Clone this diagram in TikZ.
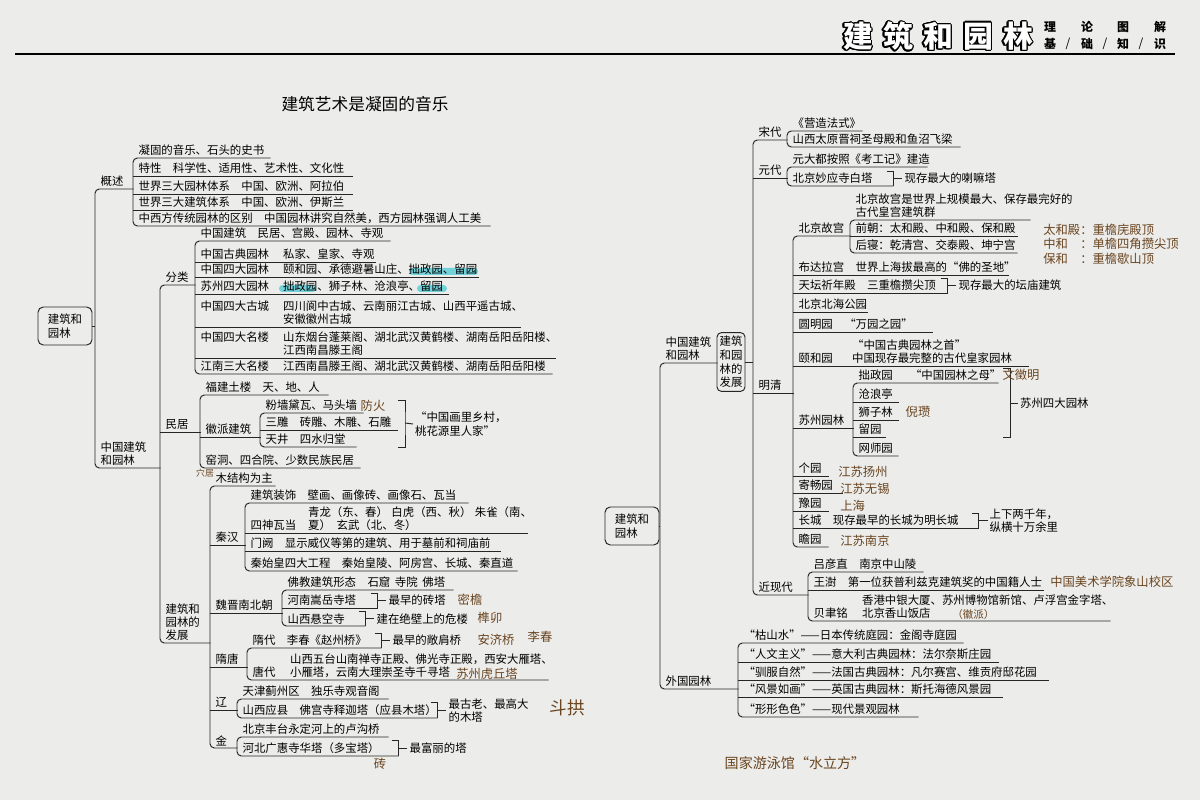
\documentclass[tikz,border=0pt]{standalone}
\usepackage{fontspec}
\setmainfont{Noto Sans CJK SC}
\usepackage[copies]{contour}
\usetikzlibrary{positioning}

\tikzset{
  link/.style={draw=lineGrey, line width=0.55pt},
  elbow/.style={link, rounded corners=2.5pt},
  leaf/.style={anchor=south west, inner xsep=3pt, inner ysep=1pt, align=left, text width=#1*0.02cm-6pt},
  note/.style={anchor=west, inner sep=1pt, align=left},
  rootbox/.style={draw=lineGrey, line width=0.55pt, rounded corners=3pt, align=left, inner sep=2pt,
                  minimum width=1.08cm, minimum height=0.76cm},
  stackbox/.style={draw=lineGrey, line width=0.55pt, rounded corners=2.5pt, align=center, inner xsep=1pt,
                   inner ysep=2pt, minimum width=0.56cm, font=\fontsize{6.5pt}{7.8pt}\selectfont},
  pen/.style={text=inkBrown, inner sep=0pt, font=\fontsize{7pt}{8pt}\selectfont},
  hilite/.style={fill=markerTeal, fill opacity=0.7, rounded corners=2pt},
  titlechar/.style={text=white, font=\fontsize{17pt}{17pt}\selectfont\bfseries, inner sep=0pt},
  subchar/.style={font=\fontsize{6.8pt}{7pt}\selectfont\bfseries, inner sep=0pt},
}

\begin{document}
\begin{tikzpicture}[x=0.02cm, y=-0.02cm, font=\fontsize{6.5pt}{7.6pt}\selectfont]
    % Define colours
    \definecolor{paper}{HTML}{ECECEA}
    \definecolor{lineGrey}{HTML}{262626}
    \definecolor{inkBrown}{HTML}{6A4520}
    \definecolor{markerTeal}{HTML}{3FC6D2}

    % Define spacing macros
    \def\gap{\kern1em}
    \def\lab#1#2{\makebox[#1][l]{#2}}

    % Draw paper
    \fill[paper] (0,0) rectangle (1200,800);
    \useasboundingbox (0,0) rectangle (1200,800);

    % Header
    \contourlength{0.7pt}
    \foreach \ch [count=\i from 0] in {建,筑,和,园,林}
        \node[titlechar] (title\i) at (858+40*\i,37) {\contour{black}{\ch}};
    \foreach \ch/\xx in {理/1050, 论/1087, 图/1123, 解/1160}
        \node[subchar] (top\xx) at (\xx,27) {\ch};
    \foreach \ch/\xx in {基/1050, 础/1087, 知/1123, 识/1160}
        \node[subchar] (bot\xx) at (\xx,44) {\ch};
    \foreach \xx in {1068,1105,1141}
        \node[subchar, font=\fontsize{6.8pt}{7pt}\selectfont] (slash\xx) at (\xx,44) {/};
    \draw[line width=0.9pt] (15,54) -- (1175,54);

    % Marker strokes
    \fill[hilite] (409,268) rectangle (478,275);
    \fill[hilite] (279,285) rectangle (316,292);
    \fill[hilite] (417,285) rectangle (447,292);

    % ---------------- Left map ----------------
    \node[rootbox] (rootL) at (65,326) {建筑和\\园林};

    \node[leaf=38] (gaishu) at (95,189) {概述};
    \node[leaf=65] (zgjz) at (95,468) {中国建筑\\和园林};
    \draw[link] (rootL.east) -- (rootL.east -| gaishu.south west);
    \draw[elbow] (gaishu.south east) -- (gaishu.south west) -- (zgjz.south west) -- (zgjz.south east);

    % Overview
    \node[leaf=137] (gs1) at (133,158) {凝固的音乐、石头的史书};
    \node[leaf=219] (gs2) at (133,176) {特性\gap 科学性、适用性、艺术性、文化性};
    \node[leaf=219] (gs3) at (133,194) {世界三大园林体系\gap 中国、欧洲、阿拉伯};
    \node[leaf=219] (gs4) at (133,210) {世界三大建筑体系\gap 中国、欧洲、伊斯兰};
    \node[leaf=357] (gs5) at (133,226) {中西方传统园林的区别\gap 中国园林讲究自然美，西方园林强调人工美};
    \draw[elbow] (gs1.south east) -- (gs1.south west) -- (gs5.south west) -- (gs5.south east);
    \foreach \n in {gs2,gs3,gs4}
        \draw[link] (\n.south west) -- (\n.south east);

    % Chinese architecture and gardens
    \node[leaf=35] (fenlei) at (160,285) {分类};
    \node[leaf=40] (minju) at (160,432) {民居};
    \node[leaf=50] (fazhan) at (160,643) {建筑和\\园林的\\发展};
    \draw[elbow] (fenlei.south east) -- (fenlei.south west) -- (fazhan.south west) -- (fazhan.south east);
    \draw[link] (minju.south west) -- (minju.south east);

    % Classification
    \node[leaf=195] (fl1) at (195,241) {中国建筑\gap 民居、宫殿、园林、寺观};
    \node[leaf=180] (fl2) at (195,262) {\lab{1.65cm}{中国古典园林}私家、皇家、寺观};
    \node[leaf=283] (fl3) at (195,277) {\lab{1.65cm}{中国四大园林}颐和园、承德避暑山庄、拙政园、留园};
    \node[leaf=253] (fl4) at (195,294) {\lab{1.65cm}{苏州四大园林}拙政园、狮子林、沧浪亭、留园};
    \node[leaf=325] (fl5) at (195,327) {\lab{1.65cm}{中国四大古城}四川阆中古城、云南丽江古城、山西平遥古城、\\\lab{1.65cm}{}安徽徽州古城};
    \node[leaf=360] (fl6) at (195,358) {\lab{1.65cm}{中国四大名楼}山东烟台蓬莱阁、湖北武汉黄鹤楼、湖南岳阳岳阳楼、\\\lab{1.65cm}{}江西南昌滕王阁};
    \node[leaf=357] (fl7) at (195,374) {\lab{1.65cm}{江南三大名楼}江西南昌滕王阁、湖北武汉黄鹤楼、湖南岳阳岳阳楼};
    \draw[elbow] (fl1.south east) -- (fl1.south west) -- (fl7.south west) -- (fl7.south east);
    \foreach \n in {fl2,fl3,fl4,fl5,fl6}
        \draw[link] (\n.south west) -- (\n.south east);

    % Dwellings
    \node[leaf=128] (mj1) at (200,395) {福建土楼\gap 天、地、人};
    \node[leaf=60] (mj2) at (200,437) {徽派建筑};
    \node[leaf=160] (mj3) at (200,468) {窑洞、四合院、少数民族民居};
    \draw[elbow] (mj1.south east) -- (mj1.south west) -- (mj3.south west) -- (mj3.south east);
    \draw[link] (mj2.south west) -- (mj2.south east);

    \node[leaf=103] (hp1) at (260,413) {粉墙黛瓦、马头墙};
    \node[leaf=137] (hp2) at (260,430) {三雕\gap 砖雕、木雕、石雕};
    \node[leaf=96] (hp3) at (260,447) {天井\gap 四水归堂};
    \draw[elbow] (hp1.south east) -- (hp1.south west) -- (hp3.south west) -- (hp3.south east);
    \draw[link] (hp2.south west) -- (hp2.south east);
    \coordinate (hpTop) at (398,400);
    \coordinate (hpBot) at (398,447);
    \coordinate (hpTip) at (405,423);
    \node[note] (hpq) at (413,424) {“中国画里乡村，\\桃花源里人家”};
    \draw[link] (hpTop) -| (hpTip) |- (hpBot);
    \draw[link] (hpTip) -- (hpq.west);

    % Development
    \node[leaf=65] (dv1) at (210,486) {木结构为主};
    \node[leaf=35] (dv2) at (210,545) {秦汉};
    \node[leaf=72] (dv3) at (210,613) {魏晋南北朝};
    \node[leaf=37] (dv4) at (210,667) {隋唐};
    \node[leaf=27] (dv5) at (210,710) {辽};
    \node[leaf=27] (dv6) at (210,748) {金};
    \draw[elbow] (dv1.south east) -- (dv1.south west) -- (dv6.south west) -- (dv6.south east);
    \foreach \n in {dv2,dv3,dv4,dv5}
        \draw[link] (\n.south west) -- (\n.south east);

    % Qin and Han
    \node[leaf=223] (qh1) at (245,503) {建筑装饰\gap 壁画、画像砖、画像石、瓦当};
    \node[leaf=282] (qh2) at (245,533) {\lab{1.15cm}{}青龙（东、春）\kern.3em 白虎（西、秋）\kern.3em 朱雀（南、\\\lab{1.15cm}{四神瓦当}夏）\kern.5em 玄武（北、冬）};
    \node[leaf=255] (qh3) at (245,551) {门阙\gap 显示威仪等第的建筑、用于墓前和祠庙前};
    \node[leaf=272] (qh4) at (245,571) {秦始皇四大工程\gap 秦始皇陵、阿房宫、长城、秦直道};
    \draw[elbow] (qh1.south east) -- (qh1.south west) -- (qh4.south west) -- (qh4.south east);
    \foreach \n in {qh2,qh3}
        \draw[link] (\n.south west) -- (\n.south east);

    % Wei, Jin, Southern and Northern dynasties
    \node[leaf=171] (wj1) at (282,590) {佛教建筑形态\gap 石窟\kern.4em 寺院\kern.4em 佛塔};
    \node[leaf=95] (wj2) at (282,608) {河南嵩岳寺塔};
    \node[leaf=83] (wj3) at (282,626) {山西悬空寺};
    \draw[elbow] (wj1.south east) -- (wj1.south west) -- (wj3.south west) -- (wj3.south east);
    \draw[link] (wj2.south west) -- (wj2.south east);
    \node[note, right=5pt of wj2] (wj2n) {最早的砖塔};
    \node[note, right=5pt of wj3] (wj3n) {建在绝壁上的危楼};
    \draw[link] ([xshift=-4pt]wj2.north east) -- (wj2.north east) -- (wj2.south east);
    \draw[link] ([xshift=-4pt]wj3.north east) -- (wj3.north east) -- (wj3.south east);
    \draw[link] (wj2.east) -- (wj2n.west);
    \draw[link] (wj3.east) -- (wj3n.west);

    % Sui and Tang
    \node[leaf=134] (st1) at (247,648) {隋代\gap 李春《赵州桥》};
    \node[leaf=301] (st2) at (247,680) {\lab{0.75cm}{}山西五台山南禅寺正殿、佛光寺正殿，西安大雁塔、\\\lab{0.75cm}{唐代}小雁塔，云南大理崇圣寺千寻塔};
    \draw[elbow] (st1.south east) -- (st1.south west) -- (st2.south west) -- (st2.south east);
    \node[note, right=5pt of st1] (st1n) {最早的敞肩桥};
    \draw[link] ([xshift=-4pt]st1.north east) -- (st1.north east) -- (st1.south east);
    \draw[link] (st1.east) -- (st1n.west);

    % Liao
    \node[leaf=151] (lo1) at (237,699) {天津蓟州区\gap 独乐寺观音阁};
    \node[leaf=200] (lo2) at (237,718) {山西应县\gap 佛宫寺释迦塔（应县木塔）};
    \draw[elbow] (lo1.south east) -- (lo1.south west) -- (lo2.south west) -- (lo2.south east);
    \node[note, right=5pt of lo2] (lo2n) {最古老、最高大\\的木塔};
    \draw[link] ([xshift=-4pt]lo2.north east) -- (lo2.north east) -- (lo2.south east);
    \draw[link] (lo2.east) -- (lo2n.west);

    % Jin
    \node[leaf=151] (jn1) at (237,737) {北京丰台永定河上的卢沟桥};
    \node[leaf=161] (jn2) at (237,756) {河北广惠寺华塔（多宝塔）};
    \draw[elbow] (jn1.south east) -- (jn1.south west) -- (jn2.south west) -- (jn2.south east);
    \node[note, right=5pt of jn2] (jn2n) {最富丽的塔};
    \draw[link] ([xshift=-4pt]jn2.north east) -- (jn2.north east) -- (jn2.south east);
    \draw[link] (jn2.east) -- (jn2n.west);

    % ---------------- Right map ----------------
    \node[rootbox] (rootR) at (632,526) {建筑和\\园林};

    \node[leaf=57] (rzg) at (660,363) {中国建筑\\和园林};
    \node[leaf=78] (rwg) at (660,689) {外国园林};
    \draw[link] (rootR.east) -- (rootR.east -| rzg.south west);
    \draw[elbow] (rzg.south east) -- (rzg.south west) -- (rwg.south west) -- (rwg.south east);

    \node[stackbox] (rbox) at (731,362) {建筑\\和园\\林的\\发展};

    % Dynasties
    \node[leaf=34] (song) at (753,140) {宋代};
    \node[leaf=34] (yuan) at (753,178) {元代};
    \node[leaf=40] (mq) at (753,393) {明清};
    \node[leaf=55] (jx) at (753,595) {近现代};
    \draw[link] (rbox.east) -- (rbox.east -| song.south west);
    \draw[elbow] (song.south east) -- (song.south west) -- (jx.south west) -- (jx.south east);
    \foreach \n in {yuan,mq}
        \draw[link] (\n.south west) -- (\n.south east);

    % Song
    \node[leaf=75] (so1) at (787,131) {《营造法式》};
    \node[leaf=173] (so2) at (787,147) {山西太原晋祠圣母殿和鱼沼飞梁};
    \draw[elbow] (so1.south east) -- (so1.south west) -- (so2.south west) -- (so2.south east);

    % Yuan
    \node[leaf=140] (yu1) at (787,167) {元大都按照《考工记》建造};
    \node[leaf=106] (yu2) at (787,186) {北京妙应寺白塔};
    \draw[elbow] (yu1.south east) -- (yu1.south west) -- (yu2.south west) -- (yu2.south east);
    \node[note, right=5pt of yu2] (yu2n) {现存最大的喇嘛塔};
    \draw[link] ([xshift=-4pt]yu2.north east) -- (yu2.north east) -- (yu2.south east);
    \draw[link] (yu2.east) -- (yu2n.west);

    % Ming and Qing
    \node[leaf=57] (mq1) at (793,236) {北京故宫};
    \node[leaf=215] (mq2) at (793,275) {布达拉宫\gap 世界上海拔最高的“佛的圣地”};
    \node[leaf=154] (mq3) at (793,293) {天坛祈年殿\gap 三重檐攒尖顶};
    \node[leaf=74] (mq4) at (793,312) {北京北海公园};
    \node[leaf=139] (mq5) at (793,332) {圆明园\gap “万园之园”};
    \node[leaf=235] (mq6) at (793,366) {\lab{1.07cm}{}“中国古典园林之首”\\\lab{1.07cm}{颐和园}中国现存最完整的古代皇家园林};
    \node[leaf=60] (mq7) at (793,428) {苏州园林};
    \node[leaf=35] (mq8) at (793,476) {个园};
    \node[leaf=49] (mq9) at (793,493) {寄畅园};
    \node[leaf=35] (mq10) at (793,511) {豫园};
    \node[leaf=185] (mq11) at (793,528) {长城\gap 现存最早的长城为明长城};
    \node[leaf=35] (mq12) at (793,547) {瞻园};
    \draw[elbow] (mq1.south east) -- (mq1.south west) -- (mq12.south west) -- (mq12.south east);
    \foreach \n in {mq2,mq3,mq4,mq5,mq6,mq7,mq8,mq9,mq10,mq11}
        \draw[link] (\n.south west) -- (\n.south east);
    \node[note, right=5pt of mq3] (mq3n) {现存最大的坛庙建筑};
    \draw[link] ([xshift=-4pt]mq3.north east) -- (mq3.north east) -- (mq3.south east);
    \draw[link] (mq3.east) -- (mq3n.west);
    \node[note, right=5pt of mq11] (mq11n) {上下两千年，\\纵横十万余里};
    \draw[link] ([xshift=-4pt]mq11.north east) -- (mq11.north east) -- (mq11.south east);
    \draw[link] (mq11.east) -- (mq11n.west);

    % Forbidden City
    \node[leaf=180] (gg1) at (850,220) {北京故宫是世界上规模最大、保存最完好的\\古代皇宫建筑群};
    \node[leaf=167] (gg2) at (850,236) {前朝：太和殿、中和殿、保和殿};
    \node[leaf=167] (gg3) at (850,253) {后寝：乾清宫、交泰殿、坤宁宫};
    \draw[elbow] (gg1.south east) -- (gg1.south west) -- (gg3.south west) -- (gg3.south east);
    \draw[link] (gg2.south west) -- (gg2.south east);

    % Suzhou gardens
    \node[leaf=145] (sz1) at (853,383) {拙政园\kern1.5em“中国园林之母”};
    \node[leaf=45] (sz2) at (853,402) {沧浪亭};
    \node[leaf=45] (sz3) at (853,420) {狮子林};
    \node[leaf=32] (sz4) at (853,437) {留园};
    \node[leaf=45] (sz5) at (853,456) {网师园};
    \draw[elbow] (sz1.south east) -- (sz1.south west) -- (sz5.south west) -- (sz5.south east);
    \foreach \n in {sz2,sz3,sz4}
        \draw[link] (\n.south west) -- (\n.south east);
    \coordinate (szTop) at (1003,368);
    \coordinate (szBot) at (1003,437);
    \coordinate (szTip) at (1010,403);
    \node[note] (szq) at (1018,403) {苏州四大园林};
    \draw[link] (szTop) -| (szTip) |- (szBot);
    \draw[link] (szTip) -- (szq.west);

    % Modern times
    \node[leaf=115] (jx1) at (808,572) {吕彦直\gap 南京中山陵};
    \node[leaf=235] (jx2) at (808,590) {王澍\gap 第一位获普利兹克建筑奖的中国籍人士};
    \node[leaf=302] (jx3) at (808,621) {\lab{0.97cm}{}香港中银大厦、苏州博物馆新馆、卢浮宫金字塔、\\\lab{0.97cm}{贝聿铭}北京香山饭店};
    \draw[elbow] (jx1.south east) -- (jx1.south west) -- (jx3.south west) -- (jx3.south east);
    \draw[link] (jx2.south west) -- (jx2.south east);

    % Foreign gardens
    \node[leaf=225] (wg1) at (738,643) {\mbox{“枯山水”——日本传统庭园：金阁寺庭园}};
    \node[leaf=260] (wg2) at (738,662) {\mbox{“人文主义”——意大利古典园林：法尔奈斯庄园}};
    \node[leaf=310] (wg3) at (738,680) {\mbox{“驯服自然”——法国古典园林：凡尔赛宫、维贡府邸花园}};
    \node[leaf=264] (wg4) at (738,697) {\mbox{“风景如画”——英国古典园林：斯托海德风景园}};
    \node[leaf=180] (wg5) at (738,717) {\mbox{“形形色色”——现代景观园林}};
    \draw[elbow] (wg1.south east) -- (wg1.south west) -- (wg5.south west) -- (wg5.south east);
    \foreach \n in {wg2,wg3,wg4}
        \draw[link] (\n.south west) -- (\n.south east);

    % Handwritten notes
    \node[pen, text=black, font=\fontsize{9.5pt}{10pt}\selectfont] (penTitle) at (365,104) {建筑艺术是凝固的音乐};
    \node[pen] (penFire) at (373,406) {防火};
    \node[pen, font=\fontsize{5pt}{6pt}\selectfont] (penCave) at (205,473) {穴居};
    \node[pen] (penMiyan) at (470,600) {密檐};
    \node[pen] (penSunmao) at (490,618) {榫卯};
    \node[pen] (penAnji) at (496,640) {安济桥};
    \node[pen] (penLichun) at (540,637) {李春};
    \node[pen] (penHuqiu) at (487,674) {苏州虎丘塔};
    \node[pen, font=\fontsize{10pt}{11pt}\selectfont] (penDougong) at (567,708) {斗拱};
    \node[pen] (penBrick) at (380,764) {砖};
    \node[pen, anchor=west] (penTaihe) at (1043,230) {太和殿：重檐庑殿顶};
    \node[pen, anchor=west] (penZhonghe) at (1043,244) {中和\kern1em：单檐四角攒尖顶};
    \node[pen, anchor=west] (penBaohe) at (1043,259) {保和\kern1em：重檐歇山顶};
    \node[pen] (penWen) at (1021,375) {文徵明};
    \node[pen] (penNi) at (918,412) {倪瓒};
    \node[pen, anchor=west] (penYz) at (838,472) {江苏扬州};
    \node[pen, anchor=west] (penWx) at (840,489) {江苏无锡};
    \node[pen, anchor=west] (penSh) at (840,506) {上海};
    \node[pen, anchor=west] (penNj) at (840,541) {江苏南京};
    \node[pen, anchor=west] (penArt) at (1050,582) {中国美术学院象山校区};
    \node[pen, anchor=west, font=\fontsize{6pt}{7pt}\selectfont] (penHui) at (952,614) {（徽派）};
    \node[pen, font=\fontsize{8pt}{9pt}\selectfont] (penCube) at (795,763) {国家游泳馆“水立方”};
\end{tikzpicture}
\end{document}
